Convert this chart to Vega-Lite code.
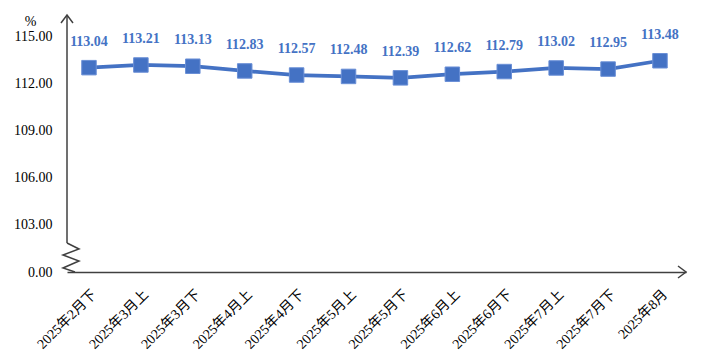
{
  "$schema": "https://vega.github.io/schema/vega-lite/v6.json",
  "autosize": {"type": "none"},
  "width": 619,
  "height": 257,
  "padding": {"left": 67, "top": 15, "right": 17, "bottom": 92},
  "background": "white",
  "config": {"view": {"stroke": null}},
  "layer": [
    {
      "data": {"values": [
        {"period": "2025年2月下", "value": 113.04},
        {"period": "2025年3月上", "value": 113.21},
        {"period": "2025年3月下", "value": 113.13},
        {"period": "2025年4月上", "value": 112.83},
        {"period": "2025年4月下", "value": 112.57},
        {"period": "2025年5月上", "value": 112.48},
        {"period": "2025年5月下", "value": 112.39},
        {"period": "2025年6月上", "value": 112.62},
        {"period": "2025年6月下", "value": 112.79},
        {"period": "2025年7月上", "value": 113.02},
        {"period": "2025年7月下", "value": 112.95},
        {"period": "2025年8月", "value": 113.48}
      ]},
      "encoding": {
        "x": {
          "field": "period", "type": "ordinal", "sort": null,
          "scale": {"type": "point", "padding": 0.4624, "align": 0.458},
          "axis": {
            "title": null, "ticks": false, "domain": true, "domainColor": "#404040", "domainWidth": 1.5,
            "labelAngle": -45, "labelAlign": "right", "labelBaseline": "top", "labelPadding": 15,
            "labelFont": "Liberation Serif, Noto Sans CJK SC", "labelFontSize": 14, "labelColor": "#000000"
          }
        },
        "y": {
          "field": "value", "type": "quantitative",
          "scale": {"domain": [100, 116.4], "nice": false, "zero": false},
          "axis": {
            "values": [100, 103, 106, 109, 112, 115],
            "labelExpr": "datum.value == 100 ? '0.00' : format(datum.value, '.2f')",
            "domain": false, "ticks": false, "grid": false, "labelPadding": 15,
            "labelFont": "Liberation Serif", "labelFontSize": 14, "labelColor": "#000000",
            "title": "%", "titleAngle": 0, "titleX": -37, "titleY": 6, "titleAlign": "center", "titleBaseline": "middle",
            "titleFont": "Liberation Serif", "titleFontSize": 14, "titleFontWeight": "normal", "titleColor": "#000000"
          }
        }
      },
      "layer": [
        {"mark": {"type": "line", "color": "#4472C4", "strokeWidth": 3.75}},
        {"mark": {"type": "point", "shape": "square", "filled": true, "size": 210, "fill": "#4472C4", "stroke": "#6a8fd6", "strokeWidth": 1, "opacity": 1}},
        {"mark": {"type": "text", "dy": -26, "baseline": "middle", "font": "Liberation Serif", "fontSize": 14, "fontWeight": "bold", "color": "#4472C4"},
         "encoding": {"text": {"field": "value", "type": "quantitative", "format": ".2f"}}}
      ]
    },
    {
      "data": {"values": [{}]},
      "mark": {"type": "rule", "color": "#404040", "strokeWidth": 1.5},
      "encoding": {
        "x": {"value": 0},
        "y": {"datum": 101.85, "type": "quantitative"},
        "y2": {"datum": 116.4}
      }
    },
    {
      "data": {"values": [{}]},
      "mark": {"type": "point", "shape": "M0,-1.933L0.8,-1.533L-0.267,-1.133L0.8,-0.733L-0.267,-0.267L0.533,0", "size": 900, "filled": false, "stroke": "#404040", "strokeWidth": 1.5, "opacity": 1},
      "encoding": {
        "x": {"value": 0},
        "y": {"datum": 100, "type": "quantitative"}
      }
    },
    {
      "data": {"values": [{}]},
      "mark": {"type": "point", "shape": "M-0.6,0.8L0,0L0.6,0.8", "size": 400, "filled": false, "stroke": "#404040", "strokeWidth": 1.5, "opacity": 1},
      "encoding": {
        "x": {"value": 0},
        "y": {"datum": 116.4, "type": "quantitative"}
      }
    },
    {
      "data": {"values": [{}]},
      "mark": {"type": "point", "shape": "M-0.8,-0.6L0,0L-0.8,0.6", "size": 400, "filled": false, "stroke": "#404040", "strokeWidth": 1.5, "opacity": 1},
      "encoding": {
        "x": {"value": 619},
        "y": {"datum": 100, "type": "quantitative"}
      }
    }
  ]
}
